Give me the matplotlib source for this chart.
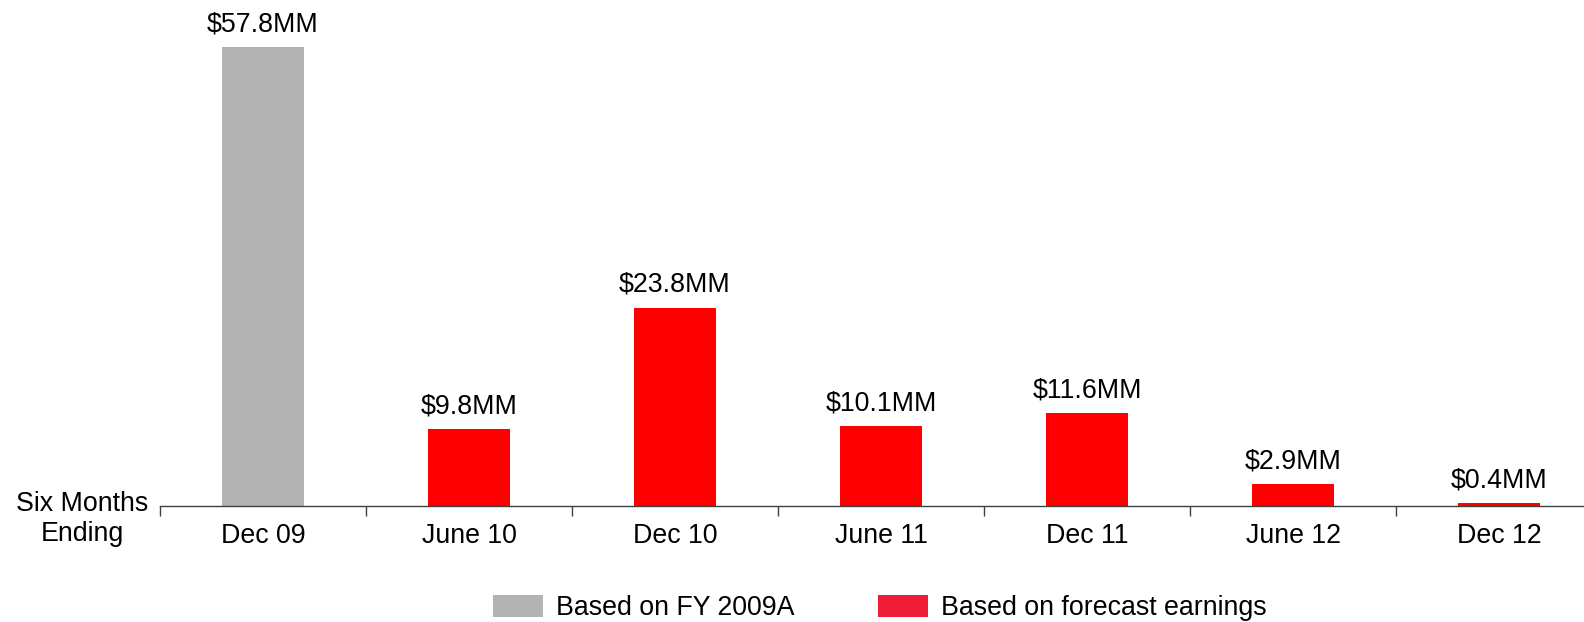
import matplotlib
matplotlib.use("Agg")
import matplotlib.pyplot as plt
from matplotlib.patches import Patch

plt.rcParams['font.family'] = ['Liberation Sans', 'DejaVu Sans']

categories = ["Dec 09", "June 10", "Dec 10", "June 11", "Dec 11", "June 12", "Dec 12"]
bar_values = [57.8, 9.7, 25.0, 10.1, 11.7, 2.8, 0.4]
value_labels = ["$57.8MM", "$9.8MM", "$23.8MM", "$10.1MM", "$11.6MM", "$2.9MM", "$0.4MM"]
series = ["Based on FY 2009A", "Based on forecast earnings", "Based on forecast earnings",
          "Based on forecast earnings", "Based on forecast earnings",
          "Based on forecast earnings", "Based on forecast earnings"]
legend_labels = ["Based on FY 2009A", "Based on forecast earnings"]

bar_colors = {"Based on FY 2009A": "#B3B3B3", "Based on forecast earnings": "#FF0000"}
legend_colors = ["#B3B3B3", "#EE1C35"]

FS = 19.3
W, H = 1584, 622
fig = plt.figure(figsize=(W / 100, H / 100), dpi=100)
ax_left, ax_bottom, ax_w, ax_h = 160, 116, 1442, 476
ax = fig.add_axes([ax_left / W, ax_bottom / H, ax_w / W, ax_h / H])

x = list(range(len(categories)))
ax.bar(x, bar_values, width=0.4, color=[bar_colors[s] for s in series], zorder=2)

for xi, v, lab in zip(x, bar_values, value_labels):
    ax.annotate(lab, (xi, v), xytext=(0, 7), textcoords="offset points",
                ha="center", va="bottom", fontsize=FS, color="black", clip_on=False)

ax.set_xlim(-0.5, len(categories) - 0.5)
ax.set_ylim(0, 60)
for s in ["top", "left", "right"]:
    ax.spines[s].set_visible(False)
ax.spines["bottom"].set_color("#404040")
ax.spines["bottom"].set_linewidth(1.0)
ax.set_yticks([])
ax.set_xticks(x)
ax.set_xticklabels(categories, fontsize=FS)
ax.tick_params(axis="x", which="major", length=0, pad=12.5)
ax.set_xticks([i - 0.5 for i in range(len(categories) + 1)], minor=True)
ax.tick_params(axis="x", which="minor", length=7, width=1.0, color="#404040")

fig.text(82 / W, 1 - 519 / H, "Six Months\nEnding", ha="center", va="center",
         fontsize=FS, linespacing=1.2)

handles = [Patch(facecolor=c, edgecolor="none") for c in legend_colors]
fig.legend(handles, legend_labels, loc="center", bbox_to_anchor=(880 / W, 1 - 608 / H),
           ncol=2, frameon=False, fontsize=FS, handlelength=1.85, handleheight=0.93,
           handletextpad=0.5, columnspacing=3.1, borderpad=0, borderaxespad=0)

fig.savefig("out.png", dpi=100)
